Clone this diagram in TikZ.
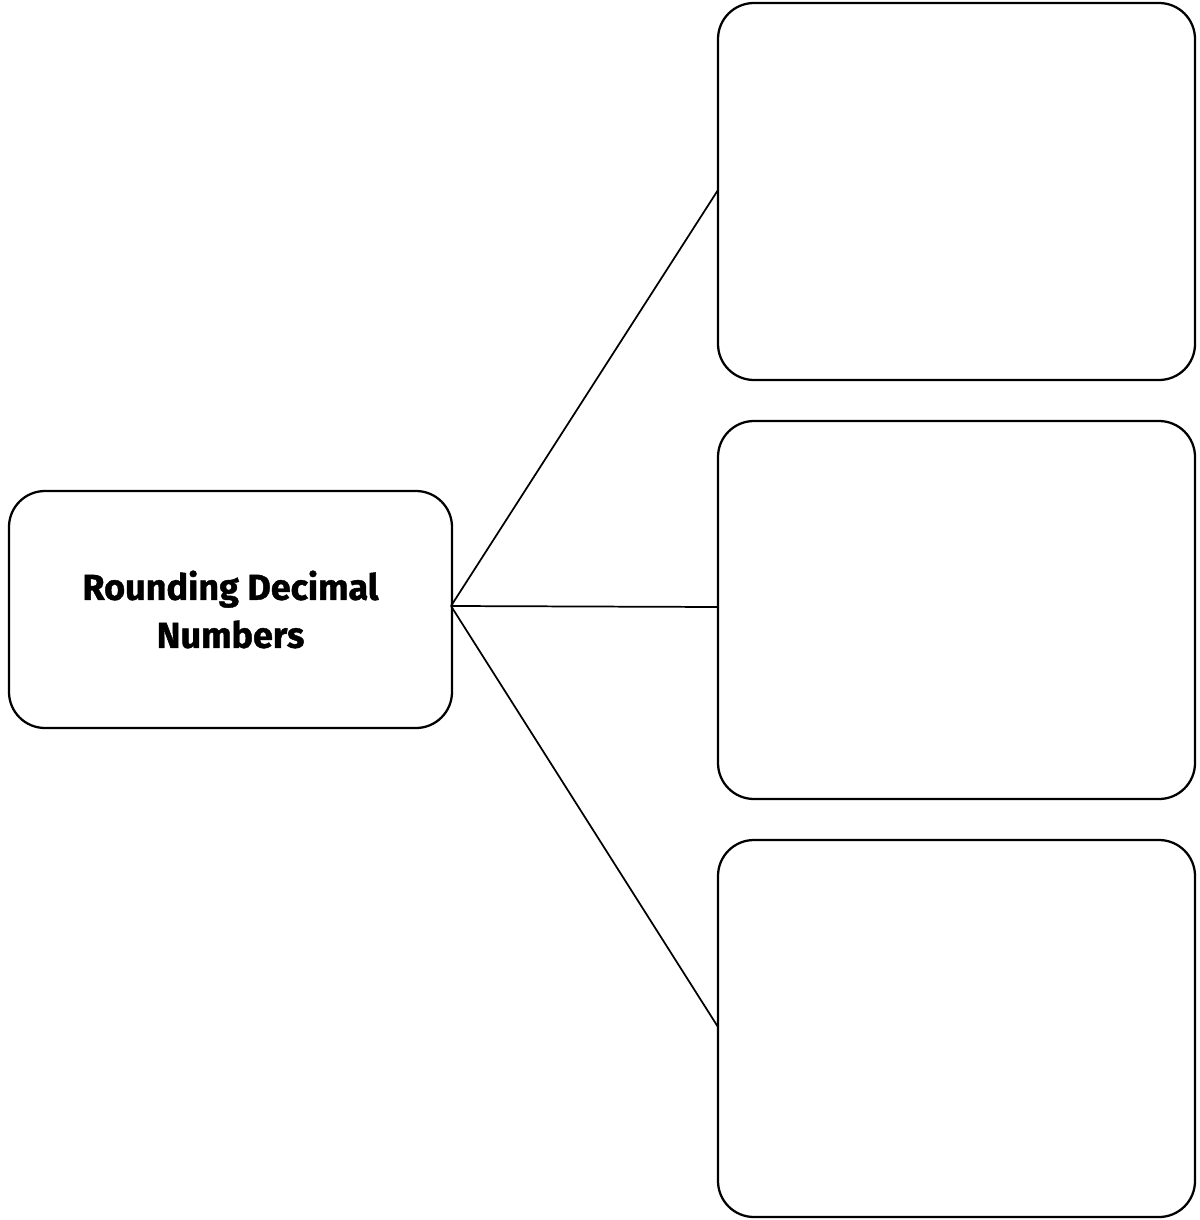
\documentclass[tikz,border=0pt]{standalone}
\usepackage{fontspec}
\setmainfont{Fira Sans}
\newfontfamily\headfont{Fira Sans}[FakeBold=1.2]
\begin{document}
\begin{tikzpicture}[x=0.75pt,y=-0.75pt,
  box/.style={draw=black,line width=1.7pt,rounded corners=27pt,inner sep=0pt,outer sep=0pt,fill=white},
  conn/.style={draw=black,line width=1.3pt}]
\useasboundingbox (0,0) rectangle (1199,1220);
\node[box,minimum width=443*0.75pt,minimum height=237*0.75pt,align=center,
  font=\headfont\fontsize{27}{36}\selectfont\bfseries] (L) at (230.5,609.5) {\raisebox{-2pt}{Rounding Decimal}\\\raisebox{-2pt}{Numbers}};
\node[box,minimum width=477*0.75pt,minimum height=377*0.75pt] (R1) at (956.5,191.5) {};
\node[box,minimum width=477*0.75pt,minimum height=378*0.75pt] (R2) at (956.5,610) {};
\node[box,minimum width=477*0.75pt,minimum height=377*0.75pt] (R3) at (956.5,1028.5) {};
\coordinate (hub) at (451,606);
\coordinate (e1) at (718,190);
\coordinate (e2) at (718,607);
\coordinate (e3) at (718,1027);
\draw[conn] (hub) -- (e1);
\draw[conn] (hub) -- (e2);
\draw[conn] (hub) -- (e3);
\end{tikzpicture}
\end{document}
